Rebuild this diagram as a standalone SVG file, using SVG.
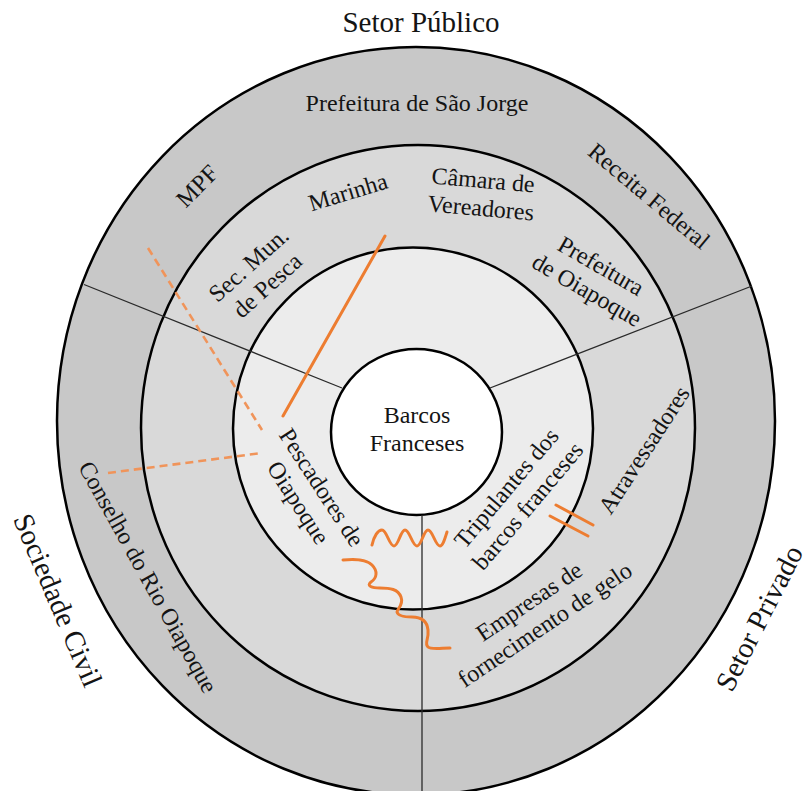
<svg xmlns="http://www.w3.org/2000/svg" width="809" height="791" viewBox="0 0 809 791">
<style>
.ring{stroke:#000;stroke-width:2.5}
.sector{stroke:#2a2a2a;stroke-width:1.3;fill:none}
.lbl{font-family:"Liberation Serif","Times New Roman",serif;font-size:24px;fill:#141414;text-anchor:middle}
.big{font-size:29px}
.conn{stroke:#ed7d31;stroke-width:3;fill:none;stroke-linecap:round;stroke-linejoin:round}
.dash{stroke:#f0945a;stroke-width:2.6;stroke-dasharray:8 5;stroke-linecap:butt}
</style>
<rect width="809" height="791" fill="#fff"/>
<g id="rings">
<ellipse class="ring" cx="416" cy="421" rx="359" ry="374" fill="#c8c8c8"/>
<ellipse class="ring" cx="418" cy="428" rx="277" ry="283" fill="#d9d9d9"/>
<ellipse class="ring" cx="413" cy="428.5" rx="180" ry="181" fill="#ececec"/>
<ellipse class="ring" cx="416.5" cy="432" rx="85.5" ry="83" fill="#ffffff"/>
</g>
<g id="sectors">
<line class="sector" x1="84" y1="284.5" x2="342" y2="388"/>
<line class="sector" x1="490" y1="388" x2="752" y2="286"/>
<line class="sector" x1="422" y1="515" x2="422" y2="791"/>
</g>
<g id="setor-publico"><text class="lbl big" x="421" y="32">Setor Público</text></g>
<g id="prefeitura-sao-jorge"><text class="lbl" x="417" y="111">Prefeitura de São Jorge</text></g>
<g id="mpf" transform="translate(197,186) rotate(-45)"><text class="lbl" x="0" y="8">MPF</text></g>
<g id="receita-federal" transform="translate(649,196) rotate(40)"><text class="lbl" x="0" y="8">Receita Federal</text></g>
<g id="marinha" transform="translate(348,192) rotate(-17)"><text class="lbl" x="0" y="8">Marinha</text></g>
<g id="camara" transform="translate(482,194) rotate(5)"><text class="lbl" x="0" y="-6">Câmara de</text><text class="lbl" x="0" y="22">Vereadores</text></g>
<g id="prefeitura-oiapoque" transform="translate(594,278) rotate(30)"><text class="lbl" x="0" y="-6">Prefeitura</text><text class="lbl" x="0" y="22">de Oiapoque</text></g>
<g id="sec-mun-pesca" transform="translate(258,275) rotate(-42)"><text class="lbl" x="0" y="-6">Sec. Mun.</text><text class="lbl" x="0" y="22">de Pesca</text></g>
<g id="barcos-franceses"><text class="lbl" x="417" y="423">Barcos</text><text class="lbl" x="417" y="451">Franceses</text></g>
<g id="pescadores" transform="translate(310,495) rotate(57)"><text class="lbl" x="0" y="-6">Pescadores de</text><text class="lbl" x="0" y="22">Oiapoque</text></g>
<g id="tripulantes" transform="translate(517,497) rotate(-50)"><text class="lbl" x="0" y="-6">Tripulantes dos</text><text class="lbl" x="0" y="22">barcos franceses</text></g>
<g id="atravessadores" transform="translate(644,450) rotate(-57)"><text class="lbl" x="0" y="8">Atravessadores</text></g>
<g id="empresas-gelo" transform="translate(537,613) rotate(-34)"><text class="lbl" x="0" y="-6">Empresas de</text><text class="lbl" x="0" y="22">fornecimento de gelo</text></g>
<g id="conselho" transform="translate(148,577) rotate(61)"><text class="lbl" x="0" y="8">Conselho do Rio Oiapoque</text></g>
<g id="sociedade-civil" transform="translate(58,600) rotate(67)"><text class="lbl big" x="0" y="10">Sociedade Civil</text></g>
<g id="setor-privado" transform="translate(759,618) rotate(-63)"><text class="lbl big" x="0" y="10">Setor Privado</text></g>
<g id="connectors">
<line class="conn" x1="385" y1="236" x2="283" y2="416"/>
<line class="conn dash" x1="148" y1="248" x2="262" y2="430"/>
<line class="conn dash" x1="108" y1="473" x2="262" y2="453"/>
<path class="conn" d="M372,545 C374,536 378,530 382,530 C386.8,530 389.2,546 394,546 C398.4,546 400.6,530 405,530 C409.8,530 412.2,546 417,546 C421.4,546 423.6,530 428,530 C432.8,530 435.2,546 440,546 C443,546 445,538 447,532"/>
<path class="conn" d="M343,560 C355,559 366,559 372,565 C378,571 377,578 371,582 C366,586 372,588 380,588 C390,588 398,589 401,597 C404,605 397,609 397,612 C398,616 405,617 412,617 C420,617 427,620 428,630 C429,640 424,643 428,647 C431,650 442,648 450,648"/>
<line class="conn" x1="556" y1="505" x2="593" y2="525"/>
<line class="conn" x1="550" y1="516" x2="588" y2="536"/>
</g>
</svg>
